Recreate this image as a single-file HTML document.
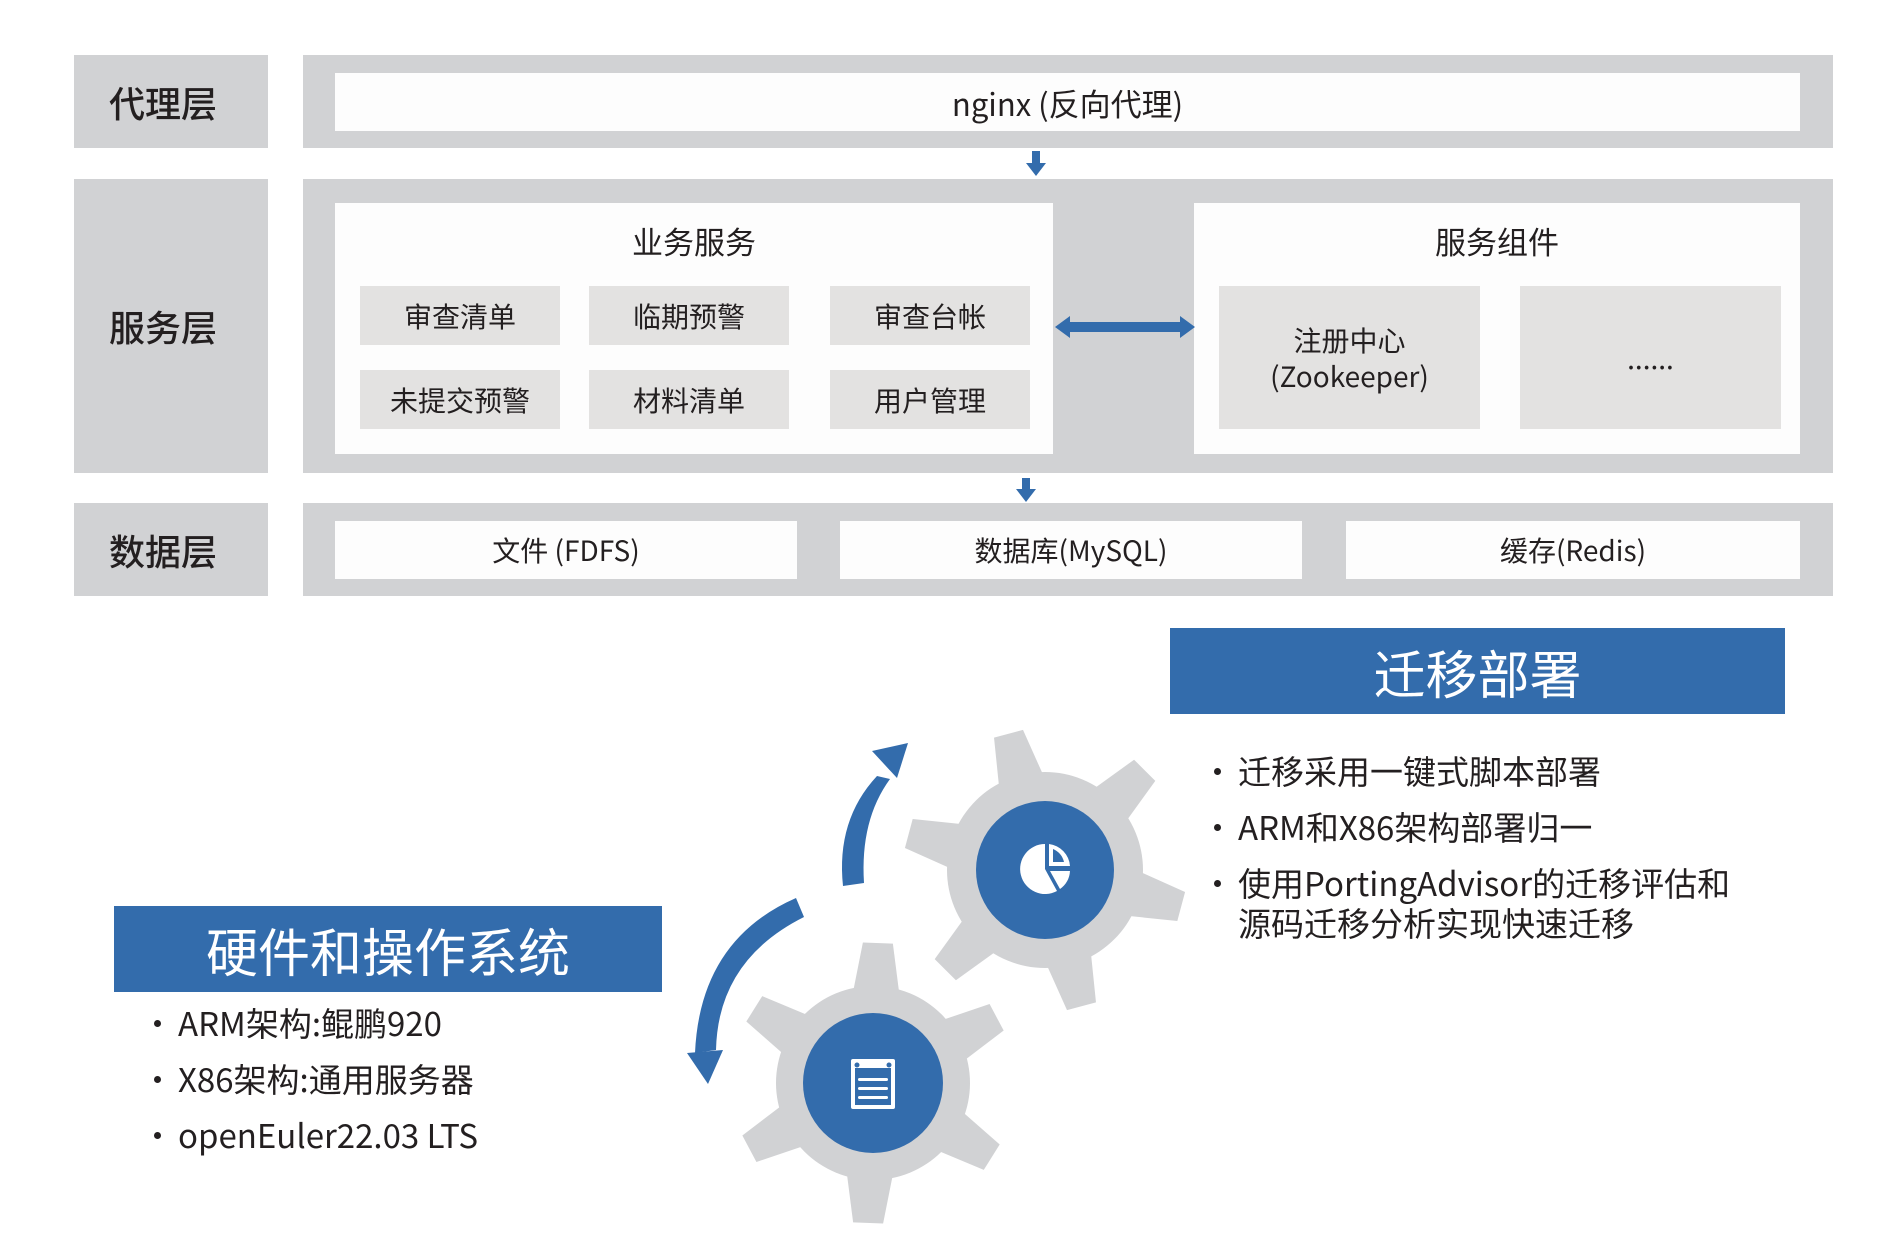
<!DOCTYPE html>
<html><head><meta charset="utf-8"><style>
*{margin:0;padding:0;box-sizing:border-box}
body{width:1892px;height:1260px;background:#fff;position:relative;overflow:hidden;font-family:"Noto Sans CJK SC","Liberation Sans",sans-serif;color:#231f20}
.a{position:absolute;display:flex;align-items:center;justify-content:center;text-align:center}
.g{background:#d1d2d4}.w{background:#fdfdfd}.l{background:#e3e2e1}
.lab{font-size:36px;font-weight:500;padding-right:16px}
.t{font-size:28px}
.b{position:absolute;font-size:33px;line-height:40px;white-space:nowrap}
.b.d:before{content:"";position:absolute;left:-24px;top:18px;width:7px;height:7px;border-radius:50%;background:#231f20}
</style></head><body>
<div class="a g lab" style="left:74px;top:55px;width:194px;height:93px">代理层</div>
<div class="a g lab" style="left:74px;top:179px;width:194px;height:294px">服务层</div>
<div class="a g lab" style="left:74px;top:503px;width:194px;height:93px">数据层</div>

<div class="a g" style="left:303px;top:55px;width:1530px;height:93px"></div>
<div class="a w t" style="left:335px;top:73px;width:1465px;height:58px;font-size:31px">nginx (反向代理)</div>

<div class="a g" style="left:303px;top:179px;width:1530px;height:294px"></div>
<div class="a w" style="left:335px;top:203px;width:718px;height:251px"></div>
<div class="a w" style="left:1194px;top:203px;width:606px;height:251px"></div>
<div class="a t" style="left:335px;top:218px;width:718px;height:44px;font-size:31px">业务服务</div>
<div class="a t" style="left:1194px;top:218px;width:606px;height:44px;font-size:31px">服务组件</div>
<div class="a l t" style="left:360px;top:286px;width:200px;height:59px">审查清单</div>
<div class="a l t" style="left:589px;top:286px;width:200px;height:59px">临期预警</div>
<div class="a l t" style="left:830px;top:286px;width:200px;height:59px">审查台帐</div>
<div class="a l t" style="left:360px;top:370px;width:200px;height:59px">未提交预警</div>
<div class="a l t" style="left:589px;top:370px;width:200px;height:59px">材料清单</div>
<div class="a l t" style="left:830px;top:370px;width:200px;height:59px">用户管理</div>
<div class="a l t" style="left:1219px;top:286px;width:261px;height:143px;line-height:36px">注册中心<br>(Zookeeper)</div>
<div class="a l t" style="left:1520px;top:286px;width:261px;height:143px">......</div>

<div class="a g" style="left:303px;top:503px;width:1530px;height:93px"></div>
<div class="a w t" style="left:335px;top:521px;width:462px;height:58px">文件 (FDFS)</div>
<div class="a w t" style="left:840px;top:521px;width:462px;height:58px">数据库(MySQL)</div>
<div class="a w t" style="left:1346px;top:521px;width:454px;height:58px">缓存(Redis)</div>

<svg style="position:absolute;left:0;top:0" width="1892" height="1260">
<g fill="#336cac">
<rect x="1032" y="151" width="8" height="14"/><polygon points="1026,163 1046,163 1036,176"/>
<rect x="1022" y="478" width="8" height="13"/><polygon points="1016,489 1036,489 1026,502"/>
<rect x="1068" y="322" width="114" height="10"/><polygon points="1055,327 1070,316 1070,338"/><polygon points="1195,327 1180,316 1180,338"/>
</g>
<g fill="#d1d2d4">
<circle cx="1045" cy="870" r="98"/>
<g transform="translate(1045,870) rotate(-15)"><polygon points="-24,-85 24,-85 15,-141 -15,-141"/></g>
<g transform="translate(1045,870) rotate(45)"><polygon points="-24,-85 24,-85 15,-141 -15,-141"/></g>
<g transform="translate(1045,870) rotate(105)"><polygon points="-24,-85 24,-85 15,-141 -15,-141"/></g>
<g transform="translate(1045,870) rotate(165)"><polygon points="-24,-85 24,-85 15,-141 -15,-141"/></g>
<g transform="translate(1045,870) rotate(225)"><polygon points="-24,-85 24,-85 15,-141 -15,-141"/></g>
<g transform="translate(1045,870) rotate(285)"><polygon points="-24,-85 24,-85 15,-141 -15,-141"/></g>
<circle cx="873" cy="1083" r="97"/>
<g transform="translate(873,1083) rotate(2)"><polygon points="-24,-85 24,-85 15,-140 -15,-140"/></g>
<g transform="translate(873,1083) rotate(62)"><polygon points="-24,-85 24,-85 15,-140 -15,-140"/></g>
<g transform="translate(873,1083) rotate(122)"><polygon points="-24,-85 24,-85 15,-140 -15,-140"/></g>
<g transform="translate(873,1083) rotate(182)"><polygon points="-24,-85 24,-85 15,-140 -15,-140"/></g>
<g transform="translate(873,1083) rotate(242)"><polygon points="-24,-85 24,-85 15,-140 -15,-140"/></g>
<g transform="translate(873,1083) rotate(302)"><polygon points="-24,-85 24,-85 15,-140 -15,-140"/></g>
</g>
<circle cx="1045" cy="870" r="69" fill="#336cac"/>
<circle cx="873" cy="1083" r="70" fill="#336cac"/>
<g fill="#fff">
<path d="M1045,869 L1057,891 A25,25 0 1,1 1045,844 Z"/>
<path d="M1049,844 L1049,866 L1070,866 A24,24 0 0,0 1049,844 Z M1053,849 L1053,862 L1064,862 A19,19 0 0,0 1053,849 Z" fill-rule="evenodd"/>
<path d="M1050,871 L1070,871 A24,24 0 0,1 1060,889 Z"/>
<rect x="851" y="1059" width="44" height="50" rx="2"/>
</g>
<g fill="#336cac">
<rect x="855" y="1068" width="36" height="37"/>
<circle cx="857" cy="1065" r="2.5"/><circle cx="889" cy="1065" r="2.5"/>
</g>
<g fill="#fff"><rect x="858" y="1078" width="30" height="3" rx="1.5"/><rect x="858" y="1087" width="30" height="3" rx="1.5"/><rect x="858" y="1096" width="30" height="3" rx="1.5"/></g>
<g fill="#336cac">
<path d="M843,886 Q836,820 877,776 L890,779 Q860,820 864,883 Z"/>
<polygon points="872,751 908,743 897,778"/>
<path d="M796,898 Q700,940 695,1053 L716,1050 Q718,960 804,917 Z"/>
<polygon points="687,1053 723,1050 708,1084"/>
</g>
</svg>

<div class="a" style="left:1170px;top:628px;width:615px;height:86px;background:#336cac;color:#fff;font-size:52px">迁移部署</div>
<div class="b d" style="left:1238px;top:750px">迁移采用一键式脚本部署</div>
<div class="b d" style="left:1238px;top:806px">ARM和X86架构部署归一</div>
<div class="b d" style="left:1238px;top:862px">使用PortingAdvisor的迁移评估和</div>
<div class="b" style="left:1238px;top:902px">源码迁移分析实现快速迁移</div>

<div class="a" style="left:114px;top:906px;width:548px;height:86px;background:#336cac;color:#fff;font-size:52px">硬件和操作系统</div>
<div class="b d" style="left:178px;top:1002px">ARM架构:鲲鹏920</div>
<div class="b d" style="left:178px;top:1058px">X86架构:通用服务器</div>
<div class="b d" style="left:178px;top:1114px">openEuler22.03 LTS</div>
</body></html>
